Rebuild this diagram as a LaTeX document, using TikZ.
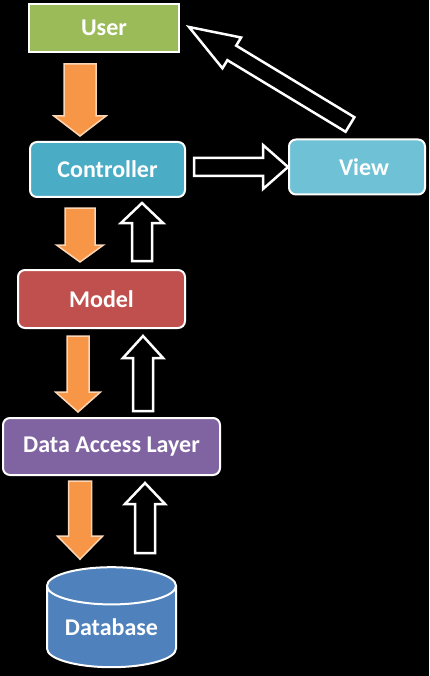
\documentclass[tikz,border=0pt]{standalone}
\usepackage{fontspec}
\setmainfont{Carlito}
\usetikzlibrary{calc,shapes.geometric}
\definecolor{usergreen}{HTML}{9BBB59}
\definecolor{ctrlblue}{HTML}{4BACC6}
\definecolor{viewblue}{HTML}{6FC2D5}
\definecolor{modelred}{HTML}{C0504D}
\definecolor{dalpurple}{HTML}{8064A2}
\definecolor{dbblue}{HTML}{4F81BD}
\definecolor{arrorange}{HTML}{F79646}

\begin{document}
\begin{tikzpicture}[
  x=1pt, y=-1pt,
  box/.style={fill=#1, draw=white, line width=2pt, rounded corners=7pt, text=white,
              font=\fontsize{24pt}{28pt}\selectfont\bfseries, inner sep=0pt, align=center},
  orangearr/.style={fill=arrorange, draw=white!60!arrorange, line width=1.5pt, line join=miter},
  hollowarr/.style={fill=black, draw=white, line width=2.5pt, line join=miter},
  blockarr/.style n args={3}{to path={
    let \p1=(\tikztostart), \p2=(\tikztotarget),
        \n1={atan2(\y2-\y1,\x2-\x1)}, \n2={veclen(\x2-\x1,\y2-\y1)} in
    ([shift={(\p1)},rotate=\n1]0,{-#1}) -- ([shift={(\p1)},rotate=\n1]{\n2-#3},{-#1})
    -- ([shift={(\p1)},rotate=\n1]{\n2-#3},{-#2}) -- ([shift={(\p1)},rotate=\n1]{\n2},0)
    -- ([shift={(\p1)},rotate=\n1]{\n2-#3},{#2}) -- ([shift={(\p1)},rotate=\n1]{\n2-#3},{#1})
    -- ([shift={(\p1)},rotate=\n1]0,{#1}) -- cycle}},
]
% Fondo
\fill[black] (0,0) rectangle (429,676);

% Capas
\node[box=usergreen, rounded corners=0pt, minimum width=150pt, minimum height=48pt] (user) at (104,28) {User};
\node[box=ctrlblue, minimum width=155pt, minimum height=55pt] (ctrl) at (107.5,169.5) {Controller};
\node[box=viewblue, minimum width=136pt, minimum height=55pt] (view) at (357,167) {\hspace*{14pt}View};
\node[box=modelred, minimum width=167pt, minimum height=58pt] (model) at (101.5,299) {Model};
\node[box=dalpurple, minimum width=217pt, minimum height=57pt] (dal) at (111.5,446.5) {Data Access Layer};
\node[box=dbblue, rounded corners=0pt, cylinder, shape border rotate=90, aspect=0.4,
      minimum width=129pt, minimum height=100pt] (db) at (111.5,627) {Database};

% Peticiones (naranja)
\draw[orangearr] ($(user.south)+(-24,11)$) to[blockarr={16}{26}{20}] ($(ctrl.north)+(-27.5,-5)$);
\draw[orangearr] ($(ctrl.south)+(-27.5,10)$) to[blockarr={15}{23.5}{17}] ($(model.north)+(-21.5,-7)$);
\draw[orangearr] ($(model.south)+(-23.5,7)$) to[blockarr={11}{22.5}{20}] ($(dal.north)+(-33.5,-5)$);
\draw[orangearr] ($(dal.south)+(-31.5,5)$) to[blockarr={11.5}{22.5}{23}] ($(db.north)+(-31.5,-7)$);

% Respuestas (huecas)
\draw[hollowarr] ($(model.north)+(40.5,-8)$) to[blockarr={10}{21}{20}] ($(ctrl.south)+(34.5,5)$);
\draw[hollowarr] ($(dal.north)+(31.5,-6)$) to[blockarr={10}{20}{22}] ($(model.south)+(41.5,7)$);
\draw[hollowarr] ($(db.north)+(33.5,-13)$) to[blockarr={10}{20}{21}] ($(dal.south)+(33.5,7)$);
\draw[hollowarr] ($(ctrl.east)+(8,-2.5)$) to[blockarr={9}{22}{25}] (view.west);
\draw[hollowarr] ($(view.north)+(-7,-14)$) to[blockarr={8.5}{18}{50}] ($(user.east)+(9,-1)$);
\end{tikzpicture}
\end{document}
